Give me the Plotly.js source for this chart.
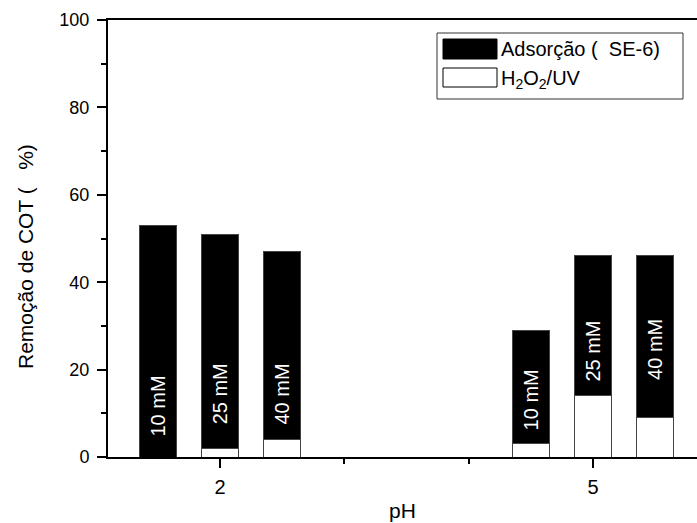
<!DOCTYPE html>
<html>
<head>
<meta charset="utf-8">
<script src="https://cdn.plot.ly/plotly-3.0.1.min.js"></script>
<style>html,body{margin:0;padding:0;background:#fff;}#chart{width:697px;height:523px;}</style>
</head>
<body>
<div id="chart"></div>
<script>
// ---- data ----
const phValues = [2, 5];
const concentrations = ["10 mM", "25 mM", "40 mM"];
// total removal (%) per pH, per concentration
const totalRemoval = [
  [53, 51, 47],
  [29, 46, 46]
];
// H2O2/UV portion (%) per pH, per concentration
const h2o2uvRemoval = [
  [0, 2, 4],
  [3, 14, 9]
];
const seriesNames = ["Adsorção (  SE-6)", "H<sub>2</sub>O<sub>2</sub>/UV"];
const yTitle = "Remoção de COT (   %)";
const xTitle = "pH";

// ---- layout helpers (positions, not data) ----
const groupSpacing = 0.5;   // x-units between bars in a group
const barWidth = 0.30;
const labelBase = [[4.3, 6.9, 6.9], [5.7, 16.9, 17.1]]; // y where rotated label starts

const FONT = '"Liberation Sans", Arial, sans-serif';
const xs = [], yWhite = [], yBlack = [], annots = [];
phValues.forEach((ph, i) => {
  concentrations.forEach((c, j) => {
    const x = ph + (j - 1) * groupSpacing;
    xs.push(x);
    yWhite.push(h2o2uvRemoval[i][j]);
    yBlack.push(totalRemoval[i][j] - h2o2uvRemoval[i][j]);
    annots.push({
      x: x, y: labelBase[i][j], xref: 'x', yref: 'y',
      text: c, showarrow: false, textangle: -90,
      xanchor: 'center', yanchor: 'bottom',
      font: {family: FONT, size: 20, color: '#fff'}
    });
  });
});

const lineCol = '#444';
const traces = [
  {type: 'bar', x: xs, y: yWhite, width: barWidth, name: seriesNames[1],
   marker: {color: '#fff', line: {color: lineCol, width: 1}}, hoverinfo: 'skip'},
  {type: 'bar', x: xs, y: yBlack, width: barWidth, name: seriesNames[0],
   marker: {color: '#000', line: {color: lineCol, width: 1}}, hoverinfo: 'skip'}
];

// legend drawn manually (paper coords)
const px = v => (v - 108) / 589;
const py = v => (457 - v) / 437;
const shapes = [
  {type: 'rect', xref: 'paper', yref: 'paper', x0: px(437), x1: px(683), y0: py(99), y1: py(33),
   line: {color: '#333', width: 1}, fillcolor: 'rgba(0,0,0,0)'},
  {type: 'rect', xref: 'paper', yref: 'paper', x0: px(443), x1: px(497), y0: py(59), y1: py(39),
   line: {color: '#000', width: 1}, fillcolor: '#000'},
  {type: 'rect', xref: 'paper', yref: 'paper', x0: px(443), x1: px(497), y0: py(87), y1: py(68),
   line: {color: '#000', width: 1}, fillcolor: '#fff'}
];
annots.push({xref: 'paper', yref: 'paper', x: px(499), y: py(49), xanchor: 'left', yanchor: 'middle',
  text: seriesNames[0], showarrow: false, font: {family: FONT, size: 20, color: '#000'}});
annots.push({xref: 'paper', yref: 'paper', x: px(499), y: py(79), xanchor: 'left', yanchor: 'middle',
  text: seriesNames[1], showarrow: false, font: {family: FONT, size: 20, color: '#000'}});
// y-axis title (placed to match reference offset)
annots.push({xref: 'paper', yref: 'paper', x: px(25), y: py(257), xanchor: 'center', yanchor: 'middle',
  text: yTitle, textangle: -90, showarrow: false, font: {family: FONT, size: 21, color: '#000'}});

const layout = {
  width: 697, height: 523,
  margin: {l: 108, r: 0, t: 20, b: 66},
  paper_bgcolor: '#fff', plot_bgcolor: '#fff',
  barmode: 'stack', showlegend: false,
  font: {family: FONT, size: 17, color: '#000'},
  xaxis: {
    range: [1.099, 5.837], tickvals: phValues, ticktext: phValues.map(String),
    showgrid: false, zeroline: false, showline: true, linecolor: '#000', linewidth: 2,
    mirror: true, ticks: 'outside', ticklen: 9, tickwidth: 2, tickcolor: '#000',
    minor: {dtick: 1, tick0: 0, ticks: 'outside', ticklen: 5, tickwidth: 2, tickcolor: '#000'},
    tickfont: {family: FONT, size: 20}, ticklabelstandoff: 2,
    title: {text: xTitle, font: {family: FONT, size: 21}, standoff: 6}
  },
  yaxis: {
    range: [0, 100], dtick: 20, tick0: 0,
    showgrid: false, zeroline: false, showline: true, linecolor: '#000', linewidth: 2,
    ticks: 'outside', ticklen: 9, tickwidth: 2, tickcolor: '#000',
    minor: {dtick: 10, tick0: 0, ticks: 'outside', ticklen: 5, tickwidth: 2, tickcolor: '#000'},
    tickfont: {family: FONT, size: 18}, ticklabelstandoff: 4
  },
  shapes: shapes,
  annotations: annots
};

Plotly.newPlot('chart', traces, layout, {displayModeBar: false, staticPlot: true});
</script>
</body>
</html>
